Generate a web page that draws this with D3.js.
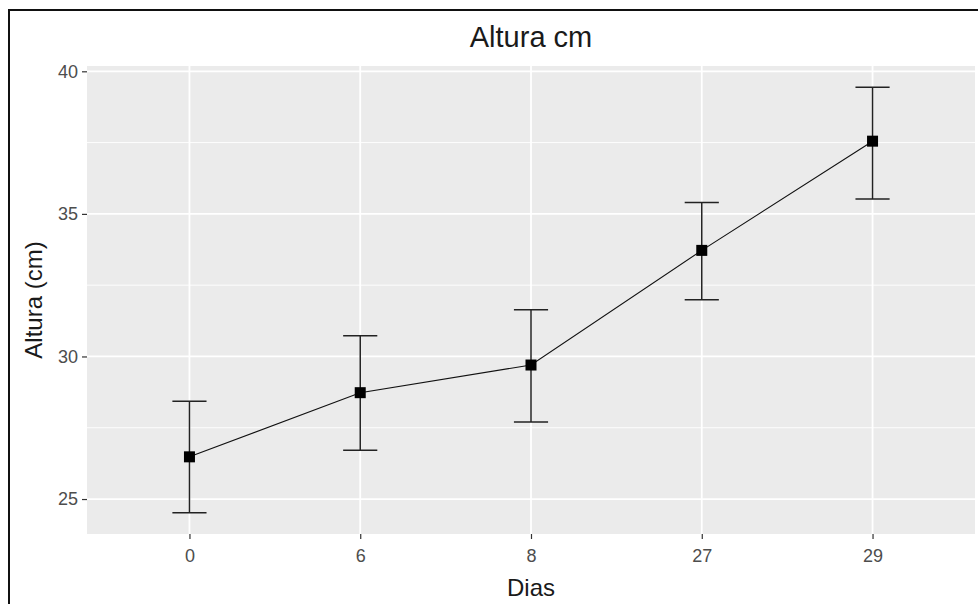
<!DOCTYPE html>
<html>
<head>
<meta charset="utf-8">
<script src="https://cdn.jsdelivr.net/npm/d3@7"></script>
<style>
  body { margin: 0; background: #fff; }
  text { font-family: "Liberation Sans", Arial, sans-serif; }
</style>
</head>
<body>
<script>
/* DATA */
var dias = ["0", "6", "8", "27", "29"];
var media = [26.48, 28.73, 29.70, 33.72, 37.55];
var superior = [28.43, 30.73, 31.64, 35.40, 39.44];
var inferior = [24.52, 26.71, 27.70, 31.99, 35.52];
var yTicks = [25, 30, 35, 40];
var yMinor = [27.5, 32.5, 37.5];

/* GLOBALS */
var W = 978, H = 604;
var margin = { top: 66, left: 87, bottom: 70, right: 3 };
var width = W - margin.left - margin.right;
var height = H - margin.top - margin.bottom;

function main() {
  var d = dias.map(function (k, i) {
    return { dia: k, m: media[i], hi: superior[i], lo: inferior[i] };
  });

  // x discrete, ggplot expands 0.6 units each side
  var x = d3.scalePoint()
    .domain(dias)
    .range([0, width])
    .padding(0.6);
  var step = x.step();

  // y continuous, 5% expansion
  var lo = d3.min(inferior), hi = d3.max(superior);
  var pad = (hi - lo) * 0.05;
  var y = d3.scaleLinear()
    .domain([lo - pad, hi + pad])
    .range([height, 0]);

  var svg = d3.select('body').append('svg')
    .attr('width', W)
    .attr('height', H);

  // frame of the picture (cut at right and bottom)
  svg.append('rect')
    .attr('x', 9).attr('y', 10)
    .attr('width', W + 20).attr('height', H + 20)
    .attr('fill', 'none')
    .attr('stroke', '#111')
    .attr('stroke-width', 2);

  var g = svg.append('g')
    .attr('transform', 'translate(' + margin.left + ',' + margin.top + ')');

  // panel
  g.append('rect')
    .attr('width', width).attr('height', height)
    .attr('fill', '#EBEBEB');

  // grid lines
  g.selectAll('.minor').data(yMinor).enter().append('line')
    .attr('x1', 0).attr('x2', width)
    .attr('y1', function (v) { return y(v); })
    .attr('y2', function (v) { return y(v); })
    .attr('stroke', '#fff').attr('stroke-width', 0.9);
  g.selectAll('.majory').data(yTicks).enter().append('line')
    .attr('x1', 0).attr('x2', width)
    .attr('y1', function (v) { return y(v); })
    .attr('y2', function (v) { return y(v); })
    .attr('stroke', '#fff').attr('stroke-width', 1.8);
  g.selectAll('.majorx').data(dias).enter().append('line')
    .attr('y1', 0).attr('y2', height)
    .attr('x1', function (k) { return x(k); })
    .attr('x2', function (k) { return x(k); })
    .attr('stroke', '#fff').attr('stroke-width', 1.8);

  // axes
  var axis_x = g.append('g')
    .attr('transform', 'translate(0,' + height + ')')
    .call(d3.axisBottom(x).tickSize(5).tickPadding(4));
  var axis_y = g.append('g')
    .call(d3.axisLeft(y).tickValues(yTicks).tickSize(5).tickPadding(4));
  [axis_x, axis_y].forEach(function (a) {
    a.select('.domain').remove();
    a.selectAll('line').attr('stroke', '#333').attr('stroke-width', 1.2);
    a.selectAll('text')
      .attr('fill', '#4D4D4D')
      .style('font-size', '18px');
  });
  axis_x.selectAll('text').attr('dy', '1.05em');

  // error bars
  var eb = g.selectAll('.eb').data(d).enter().append('g');
  eb.append('line')
    .attr('x1', function (p) { return x(p.dia); })
    .attr('x2', function (p) { return x(p.dia); })
    .attr('y1', function (p) { return y(p.hi); })
    .attr('y2', function (p) { return y(p.lo); });
  eb.append('line')
    .attr('x1', function (p) { return x(p.dia) - step * 0.1; })
    .attr('x2', function (p) { return x(p.dia) + step * 0.1; })
    .attr('y1', function (p) { return y(p.hi); })
    .attr('y2', function (p) { return y(p.hi); });
  eb.append('line')
    .attr('x1', function (p) { return x(p.dia) - step * 0.1; })
    .attr('x2', function (p) { return x(p.dia) + step * 0.1; })
    .attr('y1', function (p) { return y(p.lo); })
    .attr('y2', function (p) { return y(p.lo); });
  eb.selectAll('line').attr('stroke', '#222').attr('stroke-width', 1.5);

  // line
  var line = d3.line()
    .x(function (p) { return x(p.dia); })
    .y(function (p) { return y(p.m); });
  g.append('path')
    .datum(d)
    .attr('d', line)
    .attr('fill', 'none')
    .attr('stroke', '#111')
    .attr('stroke-width', 1.1);

  // points
  g.selectAll('.pt').data(d).enter().append('rect')
    .attr('x', function (p) { return x(p.dia) - 5.5; })
    .attr('y', function (p) { return y(p.m) - 5.5; })
    .attr('width', 11).attr('height', 11)
    .attr('fill', '#000');

  // titles
  svg.append('text')
    .attr('x', margin.left + width / 2).attr('y', 47)
    .attr('text-anchor', 'middle')
    .attr('fill', '#1a1a1a')
    .style('font-size', '29px')
    .text('Altura cm');
  svg.append('text')
    .attr('x', margin.left + width / 2).attr('y', 596)
    .attr('text-anchor', 'middle')
    .attr('fill', '#1a1a1a')
    .style('font-size', '24px')
    .text('Dias');
  svg.append('text')
    .attr('transform', 'translate(42,' + (margin.top + height / 2) + ') rotate(-90)')
    .attr('text-anchor', 'middle')
    .attr('fill', '#1a1a1a')
    .style('font-size', '24px')
    .text('Altura (cm)');
}

window.addEventListener('load', main);
</script>
</body>
</html>
